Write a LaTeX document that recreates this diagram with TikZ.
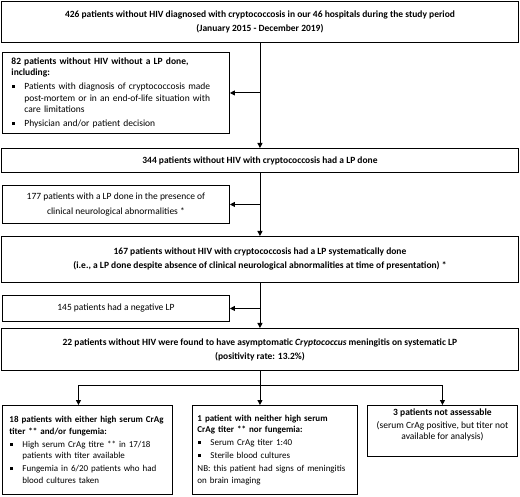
\documentclass[tikz,border=0pt]{standalone}
\usepackage{fontspec}
\setmainfont{Carlito}
\usetikzlibrary{arrows.meta}

\hyphenpenalty=10000
\newcommand{\sqitem}[2][2pt]{\par\vspace{#1}\hangindent=13pt\hangafter=1\noindent\makebox[13pt][l]{\hspace{1pt}\rule[1.6pt]{2.8pt}{2.8pt}}#2}

\begin{document}
\begin{tikzpicture}[
  x=1pt, y=-1pt,
  every node/.style={font=\fontsize{9.5}{11.5}\selectfont},
  >={Triangle[length=5pt,width=5pt]},
  box/.style={draw, line width=0.9pt, anchor=north west, inner xsep=9pt, inner ysep=2pt},
  wide/.style={box, align=center, minimum width=517pt},
  side/.style={box, align=center, minimum width=227pt},
  list/.style={box, align=left},
  small/.style={font=\fontsize{9}{11.5}\selectfont},
  flow/.style={->, line width=0.9pt}
]
\useasboundingbox (0,0) rectangle (520,497);

% ---------- Main column ----------
\node[wide, minimum height=41pt] (all) at (1,1)
  {\textbf{426 patients without HIV diagnosed with cryptococcosis in our 46 hospitals during the study period}\\[3pt]
   \textbf{(January 2015 - December 2019)}};
\node[wide, minimum height=24pt] (LPdone) at (1,148)
  {\textbf{344 patients without HIV with cryptococcosis had a LP done}};
\node[wide, minimum height=46pt] (syst) at (1,236)
  {\textbf{167 patients without HIV with cryptococcosis had a LP systematically done}\\[2.5pt]
   \textbf{(i.e., a LP done despite absence of clinical neurological abnormalities at time of presentation) *}};
\node[wide, minimum height=42pt] (asympt) at (1,328)
  {\textbf{22 patients without HIV were found to have asymptomatic \textit{Cryptococcus} meningitis on systematic LP}\\[2.5pt]
   \textbf{(positivity rate: 13.2\%)}};

% ---------- Excluded (left side) ----------
\node[list, text width=209pt, minimum height=81pt] (noLP) at (2,52)
  {\textbf{82 patients without HIV without a LP done,}\\
   \textbf{including:}
   \sqitem[2.5pt]{Patients with diagnosis of cryptococcosis made\newline post-mortem or in an end-of-life situation with\newline care limitations}
   \sqitem[2.5pt]{Physician and/or patient decision}};
\node[side, minimum height=38pt] (neuro) at (2,185)
  {177 patients with a LP done in the presence of\\[3pt]
   clinical neurological abnormalities *};
\node[side, minimum height=26pt] (negLP) at (2,295)
  {145 patients had a negative LP};

% ---------- Bottom row ----------
\node[list, small, inner xsep=7pt, text width=156pt, minimum height=89pt] (highCrAg) at (2,405)
  {\mbox{\textbf{18 patients with either high serum CrAg}}\\
   \textbf{titer ** and/or fungemia:}
   \sqitem[1.5pt]{High serum CrAg titre ** in 17/18\newline patients with titer available}
   \sqitem[1.5pt]{Fungemia in 6/20 patients who had\newline blood cultures taken}
   \par\vspace*{3pt}};
\node[list, small, inner xsep=5pt, text width=155pt, minimum height=89pt] (lowCrAg) at (192,405)
  {\mbox{\textbf{1 patient with neither high serum}}\\
   \textbf{CrAg titer ** nor fungemia:}
   \sqitem[1.5pt]{Serum CrAg titer 1:40}
   \sqitem[1.5pt]{Sterile blood cultures}
   \par\vspace{1.5pt}\noindent\mbox{NB: this patient had signs of meningitis}\newline on brain imaging
   \par\vspace*{3pt}};
\node[box, align=center, minimum width=150pt, minimum height=51pt] (notAssess) at (367,405)
  {\textbf{3 patients not assessable}\\[1pt]
   (serum CrAg positive, but titer not\\
   available for analysis)\\[2pt]};

% ---------- Connectors ----------
\draw[flow] (all.south) -- (LPdone.north);
\draw[flow] (all.south |- noLP.east) -- (noLP.east);
\draw[flow] (LPdone.south) -- (syst.north);
\draw[flow] (LPdone.south |- neuro.east) -- (neuro.east);
\draw[flow] (syst.south) -- (asympt.north);
\draw[flow] (syst.south |- negLP.east) -- (negLP.east);

\draw[line width=0.9pt] (asympt.south) -- ++(0,15) coordinate (split);
\draw[flow] (split) -| ([xshift=-9pt]highCrAg.north);
\draw[flow] (split) -- (split |- lowCrAg.north);
\draw[flow] (split) -| (notAssess.north);

\end{tikzpicture}
\end{document}
